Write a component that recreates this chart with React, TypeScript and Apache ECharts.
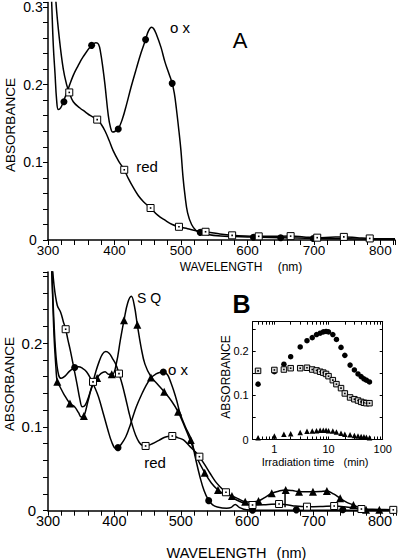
import React, { useEffect, useRef } from "react";
import * as echarts from "echarts";

type P = [number, number];

// ---------- Panel A (wavelength nm, absorbance) ----------
const aOxCurve: P[] = [
  [303, 0.36], [305.5, 0.306], [308, 0.25], [310.5, 0.215], [313, 0.18], [315.5, 0.168], [319, 0.17],
  [323, 0.178], [330.6, 0.195], [338, 0.212], [345, 0.224], [353, 0.236], [365.6, 0.2506], [372, 0.254],
  [376, 0.252], [379, 0.242], [382.5, 0.222], [385.7, 0.2], [390.6, 0.161], [394, 0.145], [397.5, 0.139],
  [401, 0.14], [405.7, 0.143], [412, 0.156], [418, 0.174], [425, 0.197], [433, 0.221], [440, 0.241],
  [446.8, 0.258], [451, 0.269], [455.8, 0.274], [459, 0.272], [463, 0.265], [470, 0.248], [476, 0.229],
  [482, 0.214], [486.8, 0.2017], [490, 0.189], [493, 0.17], [497, 0.14], [500, 0.115], [503, 0.082],
  [506, 0.058], [510, 0.035], [516, 0.02], [523, 0.012], [529, 0.0098], [540, 0.007], [560, 0.005],
  [580, 0.0045], [600, 0.004], [620, 0.0035], [650, 0.003], [700, 0.002], [750, 0.0015], [800, 0.001], [822, 0.001],
];
const aOxMarks: P[] = [
  [324, 0.178], [365.6, 0.2506], [405.7, 0.143], [446.8, 0.258], [486.8, 0.2017], [529, 0.0098],
  [609, 0.0035], [650, 0.003], [699, 0.002],
];
const aRedCurve: P[] = [
  [309, 0.36], [312, 0.306], [317, 0.26], [323, 0.22], [328, 0.2], [332, 0.19], [338, 0.178], [348, 0.17],
  [356, 0.165], [364, 0.16], [374, 0.155], [380, 0.149], [386, 0.14], [392, 0.128], [398, 0.115],
  [406, 0.102], [414.7, 0.0904], [421, 0.079], [428, 0.068], [436, 0.057], [444, 0.049], [454.3, 0.0412],
  [465, 0.032], [476, 0.0255], [487, 0.02], [497, 0.017], [510, 0.0145], [523, 0.012], [537, 0.0106],
  [557, 0.008], [577, 0.006], [597, 0.005], [617, 0.0047], [641, 0.0048], [665, 0.005], [685, 0.004],
  [705, 0.003], [725, 0.0035], [745, 0.004], [765, 0.003], [784, 0.002], [822, 0.0015],
];
const aRedMarks: P[] = [
  [332, 0.19], [374, 0.155], [414.7, 0.0904], [454.3, 0.0412], [497, 0.017], [537, 0.0106], [577, 0.006],
  [617, 0.0047], [665, 0.005], [705, 0.003], [745, 0.004], [784, 0.002],
];

// ---------- Panel B ----------
const bOxCurve: P[] = [
  [303, 0.34], [306, 0.28], [309, 0.225], [312, 0.185], [316, 0.162], [320, 0.158], [326, 0.161],
  [333, 0.167], [340.2, 0.171], [346, 0.172], [352, 0.17], [358, 0.166], [364, 0.158], [370, 0.148],
  [376, 0.136], [384, 0.114], [390, 0.097], [396, 0.082], [402, 0.0745], [405.4, 0.0753], [410, 0.079],
  [417, 0.088], [422, 0.098], [427, 0.11], [433, 0.124], [440, 0.137], [448, 0.15], [455.6, 0.159],
  [462, 0.163], [468, 0.165], [473.7, 0.1655], [478, 0.164], [481, 0.161], [485, 0.153], [489, 0.144],
  [494, 0.131], [499, 0.116], [507, 0.1], [516, 0.0845], [522, 0.063], [529, 0.04], [535, 0.024],
  [541.5, 0.0128], [548, 0.007], [555, 0.0045], [569, 0.003], [576, 0.004], [582, 0.0075], [588, 0.004],
  [599, 0.001], [620, 0.0005], [700, 0.0005], [800, 0.0005], [825, 0.0005],
];
const bOxMarks: P[] = [
  [340.2, 0.171], [405.4, 0.0753], [473.7, 0.1655], [542, 0.012], [608, 0.0005], [674, 0.001], [744, 0.0012],
];
const bRedCurve: P[] = [
  [304, 0.34], [306, 0.3], [309, 0.27], [314, 0.245], [319, 0.237], [323, 0.226], [326.6, 0.2167],
  [330, 0.204], [334, 0.19], [339, 0.17], [344, 0.15], [348, 0.133], [351.7, 0.124], [356, 0.126],
  [362, 0.138], [367.8, 0.1538], [372, 0.166], [377, 0.178], [382, 0.187], [387, 0.19], [392, 0.188],
  [397, 0.182], [402, 0.175], [406.9, 0.1637], [412, 0.15], [417, 0.134], [422, 0.117], [427, 0.102],
  [432, 0.09], [437, 0.082], [442, 0.078], [447, 0.0773], [457, 0.08], [467, 0.084], [477, 0.088],
  [487.2, 0.0892], [496, 0.087], [504, 0.0845], [514, 0.0765], [521, 0.071], [528, 0.0645], [536, 0.055],
  [544, 0.0447], [552, 0.035], [559, 0.0287], [568, 0.022], [576, 0.017], [584, 0.0128], [596, 0.009],
  [608, 0.0068], [628, 0.0072], [648, 0.008], [668, 0.006], [690, 0.0048], [710, 0.005], [731, 0.0056],
  [752, 0.004], [772, 0.002], [800, 0.0015], [820, 0.001],
];
const bRedMarks: P[] = [
  [326.6, 0.2167], [367.8, 0.1538], [406.9, 0.1637], [447, 0.0773], [487.2, 0.0892], [528, 0.0645],
  [568, 0.022], [608, 0.0068], [648, 0.008], [690, 0.0048], [731, 0.0056], [772, 0.002], [820, 0.001],
];
const bSqCurve: P[] = [
  [303, 0.34], [306, 0.28], [309, 0.21], [312, 0.17], [314, 0.154], [318, 0.148], [324, 0.139],
  [333, 0.128], [340, 0.124], [346, 0.117], [350, 0.112], [354, 0.113], [360, 0.13], [366, 0.147],
  [374, 0.1585], [380, 0.164], [386, 0.166], [391, 0.163], [397, 0.163], [403, 0.176], [409, 0.204],
  [414.5, 0.2275], [420, 0.248], [425.5, 0.256], [430, 0.245], [434.5, 0.222], [440, 0.196], [446, 0.175],
  [455, 0.16], [465, 0.151], [475, 0.142], [486, 0.131], [496, 0.118], [506, 0.1], [515, 0.0825],
  [525, 0.062], [536, 0.0454], [546, 0.033], [556, 0.0247], [566, 0.02], [577, 0.0176], [587, 0.014],
  [597, 0.0108], [607, 0.0105], [617, 0.0116], [627, 0.016], [637, 0.0208], [648, 0.0235], [658, 0.0247],
  [668, 0.024], [678, 0.0227], [688, 0.0225], [699, 0.0227], [710, 0.023], [720, 0.0235], [730, 0.02],
  [740, 0.0148], [750, 0.01], [760, 0.0068], [770, 0.003], [779, 0.001], [799, 0.001], [825, 0.0005],
];
const bSqMarks: P[] = [
  [314, 0.154], [333, 0.128], [354, 0.113], [374, 0.1585], [396, 0.163], [414.5, 0.2275], [434.5, 0.222],
  [455, 0.159], [475, 0.142], [496, 0.118], [515, 0.0845], [536, 0.0454], [556, 0.0247], [577, 0.0176],
  [597, 0.0108], [617, 0.0116], [637, 0.0208], [658, 0.0247], [678, 0.0227], [699, 0.0227], [720, 0.0235],
  [740, 0.0148], [760, 0.0068], [779, 0.001], [799, 0.001],
];
const bArtifact: P[] = [[657, 0.0247], [657, 0.004]];

// ---------- Inset B (irradiation time, min) ----------
const inTimes = [0.5, 1, 1.5, 2, 3, 4, 5, 6, 7, 8, 9, 10, 12, 14, 17, 20, 25, 30, 35, 40, 45, 50, 57];
const inOx = [0.125, 0.153, 0.17, 0.187, 0.209, 0.223, 0.23, 0.237, 0.24, 0.243, 0.244, 0.243, 0.237, 0.226,
  0.208, 0.19, 0.168, 0.157, 0.148, 0.142, 0.137, 0.134, 0.13];
const inRed = [0.155, 0.157, 0.158, 0.161, 0.161, 0.162, 0.158, 0.156, 0.153, 0.151, 0.148, 0.143, 0.134,
  0.125, 0.116, 0.104, 0.095, 0.091, 0.088, 0.085, 0.083, 0.082, 0.082];
const inSq = [0.004, 0.008, 0.0117, 0.013, 0.016, 0.0185, 0.019, 0.02, 0.021, 0.021, 0.021, 0.02, 0.019,
  0.017, 0.014, 0.012, 0.011, 0.009, 0.008, 0.007, 0.006, 0.005, 0.004];
const inTickTimes = [0.5, 0.6, 0.7, 0.8, 0.9, 1, 2, 3, 4, 5, 6, 7, 8, 9, 10, 20, 30, 40, 50, 60, 70, 80, 90, 100];
const inLabelTimes = [1, 10, 100];

const nmLabels = [300, 400, 500, 600, 700, 800];
const aYLabels = [0, 0.1, 0.2, 0.3];
const bYLabels = [0, 0.1, 0.2];

const FONT = "'Liberation Sans', Arial, Helvetica, sans-serif";

function buildOption() {
  const black = "#000";
  const mainX = (gridIndex: number, max: number, fontSize: number, margin: number) => ({
    type: "value", gridIndex, min: 300, max, interval: 20,
    axisLine: { show: true, onZero: false, lineStyle: { color: black, width: 1.5 } },
    axisTick: { show: true, inside: false, length: 5, lineStyle: { color: black, width: 1 } },
    axisLabel: { customValues: nmLabels, fontSize, color: black, margin, fontFamily: FONT },
    splitLine: { show: false },
  });
  const mainY = (gridIndex: number, max: number, labels: number[], fontSize: number, margin: number) => ({
    type: "value", gridIndex, min: 0, max, interval: 0.02,
    axisLine: { show: true, onZero: false, lineStyle: { color: black, width: 1.5 } },
    axisTick: { show: true, inside: false, length: 5, lineStyle: { color: black, width: 1 } },
    axisLabel: {
      customValues: labels, fontSize, color: black, margin, align: "center", fontFamily: FONT,
      formatter: (v: number) => (v === 0 ? "0" : String(Math.round(v * 10) / 10)),
    },
    splitLine: { show: false },
  });
  const logT = (t: number) => Math.log10(t);
  const inX = (position: string, showLabel: boolean) => ({
    type: "value", gridIndex: 2, position, min: -0.4, max: 2,
    axisLine: { show: true, onZero: false, lineStyle: { color: black, width: 1 } },
    axisTick: { show: true, inside: true, length: 3, customValues: inTickTimes.map(logT), lineStyle: { color: black, width: 1 } },
    axisLabel: {
      show: showLabel, customValues: inLabelTimes.map(logT), fontSize: 11, color: black, margin: 4, fontFamily: FONT,
      formatter: (v: number) => String(Math.round(Math.pow(10, v))),
    },
    splitLine: { show: false },
  });
  const inY = (position: string, showLabel: boolean) => ({
    type: "value", gridIndex: 2, position, min: 0, max: 0.266, interval: 0.05,
    axisLine: { show: true, onZero: false, lineStyle: { color: black, width: 1 } },
    axisTick: { show: true, inside: true, length: 3, lineStyle: { color: black, width: 1 } },
    axisLabel: {
      show: showLabel, customValues: [0, 0.1, 0.2], fontSize: 11, color: black, margin: 4, fontFamily: FONT,
      formatter: (v: number) => (v === 0 ? "0" : String(Math.round(v * 10) / 10)),
    },
    splitLine: { show: false },
  });

  const line = (xi: number, yi: number, data: P[], smooth: number | boolean = 0.4) => ({
    type: "line", xAxisIndex: xi, yAxisIndex: yi, data, smooth, symbol: "none", showSymbol: false,
    lineStyle: { color: black, width: 1.5 }, clip: true, silent: true, z: 2,
  });
  const dots = (xi: number, yi: number, data: P[], symbol: string, size: number, fill = black, border = black, bw = 0, z = 3) => ({
    type: "scatter", xAxisIndex: xi, yAxisIndex: yi, data, symbol, symbolSize: size, silent: true, z,
    itemStyle: { color: fill, borderColor: border, borderWidth: bw, opacity: 1 },
  });
  const squares = (xi: number, yi: number, data: P[], size: number, fill: string) => [
    dots(xi, yi, data, "rect", size, fill, black, 1, 4),
    dots(xi, yi, data, "rect", 1.6, black, black, 0, 5),
  ];

  const inset = (vals: number[]): P[] => inTimes.map((t, i) => [logT(t), vals[i]]);

  const txt = (text: string, x: number, y: number, fontSize: number, extra: any = {}) => ({
    type: "text", x, y, silent: true,
    style: { text, fontSize, fontFamily: FONT, fill: black, textAlign: "center", textVerticalAlign: "middle", ...extra },
  });
  const vtxt = (text: string, x: number, y: number, fontSize: number) => ({
    type: "text", x, y, rotation: Math.PI / 2, silent: true,
    style: { text, fontSize, fontFamily: FONT, fill: black, textAlign: "center", textVerticalAlign: "middle" },
  });

  return {
    animation: false,
    backgroundColor: "#fff",
    textStyle: { fontFamily: FONT },
    grid: [
      { left: 48, top: 0, width: 347, height: 240 },
      { left: 48, top: 272, width: 348.6, height: 238.7 },
      { left: 252.7, top: 321.7, width: 130, height: 117.8 },
    ],
    xAxis: [
      mainX(0, 822, 13.5, 3),
      mainX(1, 825, 14.5, 3),
      inX("bottom", true),
      inX("top", false),
    ],
    yAxis: [
      mainY(0, 240 / 785, aYLabels, 14, 15),
      mainY(1, 0.285, bYLabels, 15, 16),
      inY("left", true),
      inY("right", false),
    ],
    series: [
      line(0, 0, aOxCurve),
      line(0, 0, aRedCurve),
      dots(0, 0, aOxMarks, "circle", 7),
      ...squares(0, 0, aRedMarks, 7, "#fff"),

      line(1, 1, bOxCurve),
      line(1, 1, bRedCurve),
      line(1, 1, bSqCurve),
      line(1, 1, bArtifact, false),
      dots(1, 1, bSqMarks, "triangle", 8),
      dots(1, 1, bOxMarks, "circle", 7),
      ...squares(1, 1, bRedMarks, 7, "#fff"),

      dots(2, 2, inset(inSq), "triangle", 5.5),
      dots(2, 2, inset(inOx), "circle", 5.5),
      ...squares(2, 2, inset(inRed), 5.5, "#ddd"),
    ],
    graphic: [
      txt("A", 240, 40, 22),
      txt("o x", 180, 27, 15),
      txt("red", 147, 166, 15),
      vtxt("ABSORBANCE", 10, 125, 13.5),
      txt("WAVELENGTH", 221, 267, 12),
      txt("(nm)", 290, 267, 12),

      txt("B", 241.5, 304, 25, { fontWeight: "bold" }),
      txt("S Q", 149, 298, 14),
      txt("o x", 178, 369, 15),
      txt("red", 155, 462, 15),
      vtxt("ABSORBANCE", 9, 384, 13.5),
      txt("WAVELENGTH", 216.5, 553, 14.5),
      txt("(nm)", 291.5, 553, 14.5),

      vtxt("ABSORBANCE", 226, 377, 12),
      txt("Irradiation time", 298, 462, 11),
      txt("(min)", 356, 462, 11),
    ],
  };
}

export default function App() {
  const ref = useRef<HTMLDivElement>(null);
  useEffect(() => {
    if (!ref.current) return;
    const chart = echarts.init(ref.current, null, { renderer: "svg" });
    chart.setOption(buildOption() as any);
    return () => chart.dispose();
  }, []);
  return (
    <div
      ref={ref}
      style={{ position: "absolute", left: 0, top: 0, width: 400, height: 560, background: "#fff" }}
    />
  );
}
